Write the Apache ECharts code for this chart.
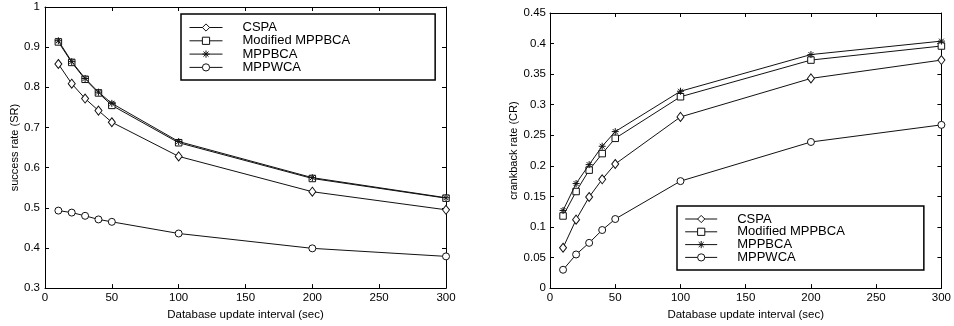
<!DOCTYPE html>
<html>
<head>
<meta charset="utf-8">
<style>
  html, body { margin: 0; padding: 0; background: #fff; }
  #chart { width: 954px; height: 326px; }
</style>
<script src="https://cdn.jsdelivr.net/npm/echarts@6/dist/echarts.min.js"></script>
</head>
<body>
<div id="chart"></div>
<script>
// Database update interval (sec)
const intervals = [10, 20, 30, 40, 50, 100, 200, 300];
const seriesNames = ['CSPA', 'Modified MPPBCA', 'MPPBCA', 'MPPWCA'];

// success rate (SR)
const srCSPA     = [0.858, 0.809, 0.772, 0.742, 0.713, 0.628, 0.540, 0.495];
const srModified = [0.913, 0.862, 0.820, 0.786, 0.755, 0.662, 0.573, 0.524];
const srMPPBCA   = [0.916, 0.864, 0.822, 0.788, 0.760, 0.665, 0.575, 0.525];
const srMPPWCA   = [0.493, 0.488, 0.480, 0.471, 0.465, 0.436, 0.399, 0.379];

// crankback rate (CR)
const crCSPA     = [0.066, 0.112, 0.149, 0.178, 0.203, 0.280, 0.343, 0.373];
const crModified = [0.118, 0.158, 0.193, 0.220, 0.245, 0.313, 0.373, 0.396];
const crMPPBCA   = [0.127, 0.171, 0.202, 0.232, 0.256, 0.322, 0.382, 0.404];
const crMPPWCA   = [0.030, 0.055, 0.074, 0.095, 0.113, 0.175, 0.239, 0.267];

const FONT = '"Liberation Sans", Arial, Helvetica, sans-serif';
const INK = '#000';
const LINE = '#111';

// marker shapes: diamond, square, asterisk, circle
const STAR = 'path://M5,0L5,10M0,5L10,5M1.5,1.5L8.5,8.5M1.5,8.5L8.5,1.5';
const markers = [
  { symbol: 'diamond', size: [7, 9] },
  { symbol: 'rect', size: 6.5 },
  { symbol: STAR, size: 7 },
  { symbol: 'circle', size: 7 }
];

function pairs(vals) {
  return intervals.map((x, i) => [x, vals[i]]);
}

function makeSeries(values, gridIdx) {
  return values.map((vals, k) => ({
    name: seriesNames[k],
    type: 'line',
    xAxisIndex: gridIdx * 2,
    yAxisIndex: gridIdx * 2,
    data: pairs(vals),
    symbol: markers[k].symbol,
    symbolSize: markers[k].size,
    symbolKeepAspect: true,
    showAllSymbol: true,
    animation: false,
    lineStyle: { color: LINE, width: 1 },
    itemStyle: { color: '#fff', borderColor: LINE, borderWidth: 1 },
    emphasis: { disabled: true },
    z: 3 + k
  }));
}

function axisTick() {
  return { show: true, inside: true, length: 4, lineStyle: { color: INK, width: 1 } };
}

function xAxes(gridIdx) {
  const base = {
    type: 'value', gridIndex: gridIdx, min: 0, max: 300, interval: 50,
    splitLine: { show: false },
    axisLine: { show: true, onZero: false, lineStyle: { color: INK, width: 1 } },
    axisTick: axisTick()
  };
  return [
    Object.assign({}, base, {
      position: 'bottom',
      name: 'Database update interval (sec)',
      nameLocation: 'middle',
      nameGap: 18,
      nameTextStyle: { fontFamily: FONT, fontSize: 11.5, color: INK },
      axisLabel: { fontFamily: FONT, fontSize: 11.5, color: INK, margin: 4 }
    }),
    Object.assign({}, base, { position: 'top', axisLabel: { show: false } })
  ];
}

function yAxes(gridIdx, min, max, interval, name, nameGap, margin) {
  const base = {
    type: 'value', gridIndex: gridIdx, min: min, max: max, interval: interval,
    splitLine: { show: false },
    axisLine: { show: true, onZero: false, lineStyle: { color: INK, width: 1 } },
    axisTick: axisTick()
  };
  return [
    Object.assign({}, base, {
      position: 'left',
      name: name,
      nameLocation: 'middle',
      nameGap: nameGap,
      nameTextStyle: { fontFamily: FONT, fontSize: 11, color: INK },
      axisLabel: { fontFamily: FONT, fontSize: 11.5, color: INK, margin: margin }
    }),
    Object.assign({}, base, { position: 'right', axisLabel: { show: false } })
  ];
}

function legend(left, top, padding, itemWidth, itemGap) {
  return {
    data: seriesNames,
    orient: 'vertical',
    left: left,
    top: top,
    padding: padding,
    itemWidth: itemWidth,
    itemHeight: 9,
    itemGap: itemGap,
    selectedMode: false,
    borderColor: INK,
    borderWidth: 1.5,
    backgroundColor: '#fff',
    lineStyle: { color: LINE, width: 1 },
    itemStyle: { color: '#fff', borderColor: LINE, borderWidth: 1 },
    textStyle: {
      fontFamily: FONT, fontSize: 13, color: INK, lineHeight: 13,
      padding: [0, 0, 0, 15]
    }
  };
}

const chart = echarts.init(document.getElementById('chart'), null, { renderer: 'canvas' });

chart.setOption({
  backgroundColor: '#fff',
  animation: false,
  grid: [
    { left: 45, right: 508, top: 7, bottom: 37 },
    { left: 550, right: 9, top: 13, bottom: 37 }
  ],
  xAxis: [].concat(xAxes(0), xAxes(1)),
  yAxis: [].concat(
    yAxes(0, 0.3, 1, 0.1, 'success rate (SR)', 23, 5),
    yAxes(1, 0, 0.45, 0.05, 'crankback rate (CR)', 26, 4)
  ),
  legend: [
    legend(181, 14, [7, 85, 6, 8], 33, 0.3),
    legend(677, 206, [6.5, 79, 6, 7.7], 32, -0.2)
  ],
  series: [].concat(
    makeSeries([srCSPA, srModified, srMPPBCA, srMPPWCA], 0),
    makeSeries([crCSPA, crModified, crMPPBCA, crMPPWCA], 1)
  )
});
</script>
</body>
</html>
